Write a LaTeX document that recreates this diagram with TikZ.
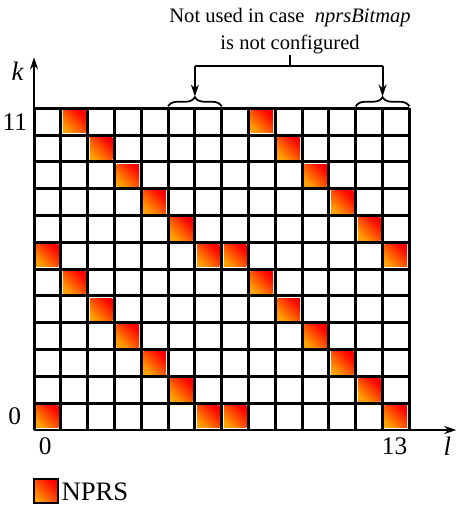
\documentclass[tikz,border=0pt]{standalone}
\usepackage{fontspec}
\setmainfont{Liberation Serif}
\usetikzlibrary{arrows.meta,decorations.pathreplacing}
\begin{document}
\begin{tikzpicture}[x=20.1pt,y=20.1pt,font=\fontsize{15.4}{20}\selectfont,>={Stealth[length=9pt,width=6pt]},
  re/.style={bottom color=orange!75!yellow,top color=red,shading angle=-45},
  br/.style={decorate,decoration={brace,amplitude=7pt},line width=1.3pt},
  num/.style={font=\fontsize{19}{22}\selectfont},
  ax/.style={font=\fontsize{20}{22}\selectfont\itshape}]
\useasboundingbox (-1.27,-2.91) rectangle (15.82,16.04);
% NPRS cells
\foreach \k/\ls in {0/{0,6,7,13},1/{5,12},2/{4,11},3/{3,10},4/{2,9},5/{1,8},
                    6/{0,6,7,13},7/{5,12},8/{4,11},9/{3,10},10/{2,9},11/{1,8}}
  \foreach \l in \ls
    \shade[re] (\l+0.08,\k+0.08) rectangle (\l+0.92,\k+0.92);
\draw[line width=2.2pt,step=1] (0,0) grid (14,12);
% axes
\coordinate (o) at (0,0);
\coordinate (ktip) at (0,13.9);
\coordinate (ltip) at (15.75,0);
\draw[->,line width=1.5pt] (o) -- (ktip);
\draw[->,line width=1.5pt] (o) -- (ltip);
\node[ax] (kax) at (-0.62,13.4) {k};
\node[ax] (lax) at (15.42,-0.6) {l};
\node[num] (l0) at (0.42,-0.62) {0};
\node[num] (l13) at (13.45,-0.62) {13};
\node[num] (k0) at (-0.72,0.5) {0};
\node[num] (k11) at (-0.72,11.5) {11};
% braces and note
\draw[br] (5,12.07) -- (7,12.07);
\draw[br] (12,12.07) -- (14,12.07);
\coordinate (bra) at (6,12.44);
\coordinate (brb) at (13,12.44);
\node[align=center,inner sep=1pt] (note) at (9.55,14.88) {Not used in case\ \ \textit{nprsBitmap}\\is not configured};
\coordinate (ja) at (6,13.58);
\coordinate (jb) at (13,13.58);
\draw[line width=1.5pt] (note.south) -- (note.south |- ja);
\draw[line width=1.5pt] (ja) -- (jb);
\draw[->,line width=1.5pt] (ja) -- (bra);
\draw[->,line width=1.5pt] (jb) -- (brb);
% legend
\node[re,draw,line width=1.5pt,minimum size=0.9*20.1pt,inner sep=0pt] (key) at (0.43,-2.29) {};
\node[num,anchor=west,inner sep=2pt,font=\fontsize{20}{22}\selectfont] (keytxt) at (key.east) {NPRS};
\end{tikzpicture}
\end{document}
